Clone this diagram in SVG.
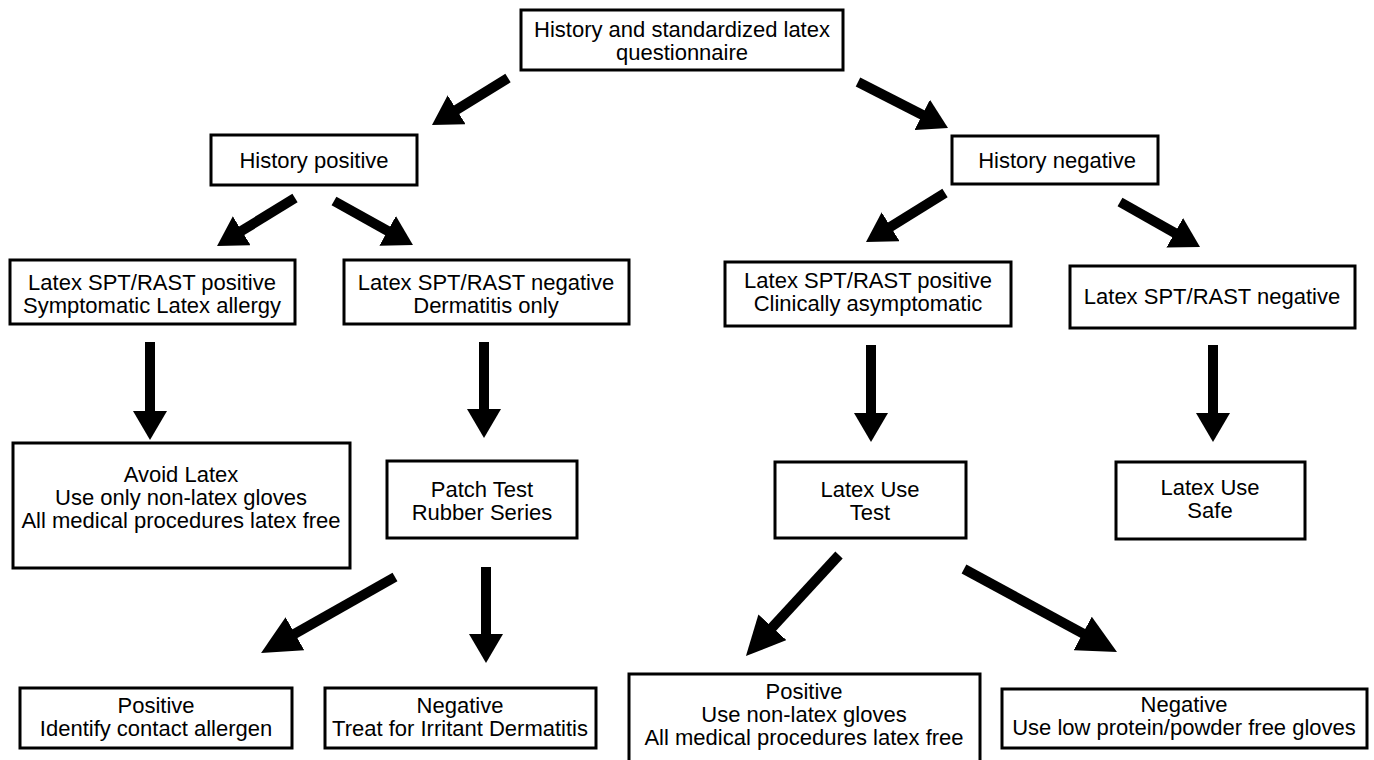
<svg xmlns="http://www.w3.org/2000/svg" width="1374" height="760" viewBox="0 0 1374 760">
<style>
.box{fill:#fff;stroke:#000;stroke-width:3}
text{font-family:"Liberation Sans",Arial,Helvetica,sans-serif;font-size:22px;fill:#000;text-anchor:middle}
.arr{stroke:#000;stroke-width:10;fill:none}
.s{marker-end:url(#ah)}
.b{marker-end:url(#ahb)}
</style>
<defs>
<marker id="ah" markerUnits="userSpaceOnUse" markerWidth="30" markerHeight="34" refX="1" refY="17" orient="auto"><path d="M0,0 L29,17 L0,34 z" fill="#000"/></marker>
<marker id="ahb" markerUnits="userSpaceOnUse" markerWidth="40" markerHeight="38" refX="1" refY="19" orient="auto"><path d="M0,0 L39,19 L0,38 z" fill="#000"/></marker>
</defs>
<rect width="1374" height="760" fill="#fff"/>
<g id="connectors">
<line class="arr s" x1="508" y1="78" x2="455.8" y2="110.3"/>
<line class="arr s" x1="858" y1="82" x2="923.1" y2="115.3"/>
<line class="arr s" x1="295" y1="198" x2="240.9" y2="231.3"/>
<line class="arr s" x1="334" y1="201" x2="388.5" y2="231.4"/>
<line class="arr s" x1="945" y1="193" x2="889.8" y2="227.2"/>
<line class="arr s" x1="1120" y1="202" x2="1175.6" y2="233.3"/>
<line class="arr s" x1="150" y1="342" x2="150" y2="412"/>
<line class="arr s" x1="484" y1="342" x2="484" y2="410"/>
<line class="arr s" x1="871" y1="345" x2="871" y2="414"/>
<line class="arr s" x1="1213" y1="345" x2="1213" y2="414"/>
<line class="arr b" x1="395" y1="577" x2="294.1" y2="634.2"/>
<line class="arr s" x1="486" y1="567" x2="486" y2="635"/>
<line class="arr b" x1="839" y1="555" x2="771.7" y2="628"/>
<line class="arr b" x1="964" y1="569" x2="1083.6" y2="633.9"/>
</g>
<g id="n-top"><rect class="box" x="521" y="10" width="322" height="60"/><text x="682" y="37">History and standardized latex</text><text x="682" y="60">questionnaire</text></g>
<g id="n-hpos"><rect class="box" x="211" y="135" width="206" height="50"/><text x="314" y="168">History positive</text></g>
<g id="n-hneg"><rect class="box" x="952" y="136" width="206" height="48"/><text x="1057" y="168">History negative</text></g>
<g id="n-spt-pos-sym"><rect class="box" x="10" y="260" width="285" height="64"/><text x="152" y="290">Latex SPT/RAST positive</text><text x="152" y="313">Symptomatic Latex allergy</text></g>
<g id="n-spt-neg-derm"><rect class="box" x="344" y="260" width="285" height="64"/><text x="486" y="290">Latex SPT/RAST negative</text><text x="486" y="313">Dermatitis only</text></g>
<g id="n-spt-pos-asym"><rect class="box" x="725" y="262" width="286" height="64"/><text x="868" y="288">Latex SPT/RAST positive</text><text x="868" y="311">Clinically asymptomatic</text></g>
<g id="n-spt-neg"><rect class="box" x="1070" y="266" width="285" height="62"/><text x="1212" y="304">Latex SPT/RAST negative</text></g>
<g id="n-avoid"><rect class="box" x="13" y="443" width="337" height="125"/><text x="181" y="482">Avoid Latex</text><text x="181" y="505">Use only non-latex gloves</text><text x="181" y="528">All medical procedures latex free</text></g>
<g id="n-patch"><rect class="box" x="387" y="461" width="190" height="77"/><text x="482" y="497">Patch Test</text><text x="482" y="520">Rubber Series</text></g>
<g id="n-usetest"><rect class="box" x="775" y="462" width="191" height="76"/><text x="870" y="497">Latex Use</text><text x="870" y="520">Test</text></g>
<g id="n-safe"><rect class="box" x="1116" y="462" width="189" height="77"/><text x="1210" y="495">Latex Use</text><text x="1210" y="518">Safe</text></g>
<g id="n-patch-pos"><rect class="box" x="20" y="688" width="272" height="60"/><text x="156" y="713">Positive</text><text x="156" y="736">Identify contact allergen</text></g>
<g id="n-patch-neg"><rect class="box" x="325" y="688" width="271" height="60"/><text x="460" y="713">Negative</text><text x="460" y="736">Treat for Irritant Dermatitis</text></g>
<g id="n-use-pos"><rect class="box" x="629" y="674" width="351" height="94"/><text x="804" y="699">Positive</text><text x="804" y="722">Use non-latex gloves</text><text x="804" y="745">All medical procedures latex free</text></g>
<g id="n-use-neg"><rect class="box" x="1002" y="689" width="365" height="59"/><text x="1184" y="712">Negative</text><text x="1184" y="735">Use low protein/powder free gloves</text></g>
</svg>
